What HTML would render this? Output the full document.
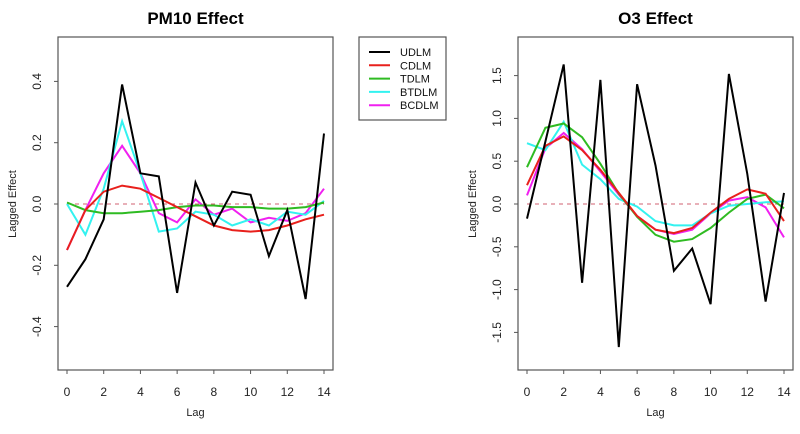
<!DOCTYPE html>
<html><head><meta charset="utf-8"><style>
body{margin:0;background:#fff;font-family:"Liberation Sans",Arial,sans-serif}
svg text{font-family:"Liberation Sans",Arial,sans-serif}
</style></head><body>
<svg id="c" width="800" height="429" xmlns="http://www.w3.org/2000/svg"></svg>
<script>
const lags=[0,1,2,3,4,5,6,7,8,9,10,11,12,13,14];
const seriesNames=["UDLM","CDLM","TDLM","BTDLM","BCDLM"];
const seriesColors=["#000000","#e8201c","#2fbb22","#33f2f0","#f020f0"];
const pmUDLM=[-0.27,-0.18,-0.05,0.39,0.10,0.09,-0.29,0.07,-0.07,0.04,0.03,-0.17,-0.02,-0.31,0.23];
const pmCDLM=[-0.15,-0.02,0.04,0.06,0.05,0.02,-0.01,-0.04,-0.07,-0.085,-0.09,-0.085,-0.07,-0.05,-0.035];
const pmTDLM=[0.005,-0.02,-0.03,-0.03,-0.025,-0.02,-0.01,-0.005,-0.005,-0.01,-0.01,-0.015,-0.015,-0.01,0.005];
const pmBTDLM=[0,-0.10,0.05,0.27,0.10,-0.09,-0.08,-0.025,-0.035,-0.07,-0.05,-0.07,-0.025,-0.035,0.01];
const pmBCDLM=[-0.15,-0.02,0.10,0.19,0.10,-0.03,-0.06,0.015,-0.035,-0.015,-0.06,-0.045,-0.055,-0.03,0.05];
const o3UDLM=[-0.17,0.73,1.63,-0.92,1.45,-1.67,1.40,0.45,-0.78,-0.52,-1.17,1.52,0.35,-1.14,0.13];
const o3CDLM=[0.22,0.68,0.79,0.63,0.40,0.13,-0.14,-0.30,-0.34,-0.28,-0.10,0.06,0.17,0.12,-0.20];
const o3TDLM=[0.43,0.89,0.94,0.78,0.47,0.12,-0.15,-0.36,-0.44,-0.41,-0.28,-0.10,0.06,0.11,-0.05];
const o3BTDLM=[0.71,0.63,0.96,0.46,0.29,0.06,-0.03,-0.20,-0.25,-0.25,-0.11,-0.02,0.00,0.02,0.03];
const o3BCDLM=[0.10,0.65,0.83,0.64,0.38,0.11,-0.14,-0.30,-0.35,-0.30,-0.11,0.04,0.08,-0.04,-0.39];
const xTicks=[0,2,4,6,8,10,12,14];
const pmYTicks=[-0.4,-0.2,0.0,0.2,0.4];
const pmYLabels=["-0.4","-0.2","0.0","0.2","0.4"];
const o3YTicks=[-1.5,-1.0,-0.5,0.0,0.5,1.0,1.5];
const o3YLabels=["-1.5","-1.0","-0.5","0.0","0.5","1.0","1.5"];

const svg=document.getElementById('c');
const NS="http://www.w3.org/2000/svg";
function mk(tag,attrs,parent){const e=document.createElementNS(NS,tag);for(const k in attrs)e.setAttribute(k,attrs[k]);(parent||svg).appendChild(e);return e;}

function panel(name,title,x0,x14,yZero,pxPerUnit,yTicks,yLabels,series,boxL,boxR){
  const g=mk('g',{});
  
  
  const X=v=>x0+(x14-x0)*v/14;
  const Y=v=>yZero-v*pxPerUnit;
  const box=mk('rect',{x:boxL,y:37,width:boxR-boxL,height:333,fill:'none',stroke:'#555','stroke-width':1.2},g);
  
  
  const t=mk('text',{x:(boxL+boxR)/2,y:24,'text-anchor':'middle','font-size':17,'font-weight':'bold'},g);
  t.textContent=title;
  
  
  xTicks.forEach(v=>{
    mk('line',{x1:X(v),x2:X(v),y1:370,y2:374,stroke:'#555'},g);
    const l=mk('text',{x:X(v),y:396,'text-anchor':'middle','font-size':12,fill:'#222'},g);
    l.textContent=v;
    
    
  });
  const xl=mk('text',{x:(boxL+boxR)/2,y:416,'text-anchor':'middle','font-size':11,fill:'#222'},g);
  xl.textContent='Lag';
  
  
  yTicks.forEach((v,i)=>{
    mk('line',{x1:boxL-4,x2:boxL,y1:Y(v),y2:Y(v),stroke:'#555'},g);
    const l=mk('text',{x:0,y:0,'text-anchor':'middle','font-size':12,fill:'#222',transform:`translate(${boxL-17},${Y(v)}) rotate(-90)`},g);
    l.textContent=yLabels[i];
    
    
  });
  const yl=mk('text',{x:0,y:0,'text-anchor':'middle','font-size':11,fill:'#222',transform:`translate(${boxL-42},204) rotate(-90)`},g);
  yl.textContent='Lagged Effect';
  
  
  const ref=mk('line',{x1:X(0),x2:X(14),y1:Y(0),y2:Y(0),stroke:'#d06070','stroke-dasharray':'4,4','stroke-width':1},g);
  
  
  [4,3,2,1,0].forEach(i=>{
    const d=series[i].map((v,k)=>(k?'L':'M')+X(lags[k]).toFixed(1)+','+Y(v).toFixed(1)).join(' ');
    const p=mk('path',{d:d,fill:'none',stroke:seriesColors[i],'stroke-width':2,'stroke-linejoin':'miter'},g);
    
    
  });
}
panel('pm10','PM10 Effect',67,324,204,306.5,pmYTicks,pmYLabels,[pmUDLM,pmCDLM,pmTDLM,pmBTDLM,pmBCDLM],58,333);
panel('o3','O3 Effect',527,784,204,85.6,o3YTicks,o3YLabels,[o3UDLM,o3CDLM,o3TDLM,o3BTDLM,o3BCDLM],518,793);

const lg=mk('g',{});


mk('rect',{x:359,y:37,width:87,height:83,fill:'#fff',stroke:'#555','stroke-width':1.2},lg);
seriesNames.forEach((n,i)=>{
  const y=52+i*13.3;
  const ln=mk('line',{x1:369,x2:390,y1:y,y2:y,stroke:seriesColors[i],'stroke-width':2},lg);
  
  
  const t=mk('text',{x:400,y:y+4,'font-size':11,fill:'#111'},lg);
  t.textContent=n;
  
  
});
</script>
</body></html>
